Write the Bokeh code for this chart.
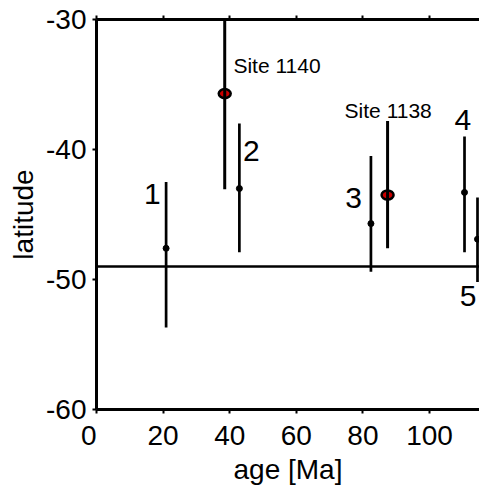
from bokeh.plotting import figure
from bokeh.models import LinearAxis, Span, FixedTicker
from bokeh.core.properties import value
from bokeh.embed import file_html
from bokeh.resources import INLINE

# ---- data ----
ages = [20.9, 42.9, 82.4, 110.5, 114.4]
lats = [-47.6, -43.0, -45.7, -43.3, -46.9]
lat_hi = [-42.5, -38.0, -40.5, -39.0, -43.7]
lat_lo = [-53.7, -47.9, -49.4, -47.9, -50.2]
num_labels = ["1", "2", "3", "4", "5"]
num_label_x = [16.8, 46.5, 77.2, 110.0, 111.6]
num_label_y = [-43.4, -40.15, -43.7, -37.7, -51.3]

site_names = ["Site 1140", "Site 1138"]
site_ages = [38.5, 87.4]
site_lats = [-35.7, -43.5]
site_hi = [-30.0, -37.8]
site_lo = [-43.05, -47.6]
site_label_x = [41.1, 74.5]
site_label_y = [-33.5, -37.0]

ref_lat = -49.0
x_ticks = [0, 20, 40, 60, 80, 100]
x_tick_labels = ["0\u00a0\u00a0", "20", "40", "60", "80", "100"]
y_ticks = [-60, -50, -40, -30]
y_tick_labels = ["-60", "-50", "-40", "-30"]

FONT = "Liberation Sans"

p = figure(width=479, height=490, x_range=(0, 115), y_range=(-60, -30),
           output_backend="svg", toolbar_location=None,
           min_border_left=96, min_border_right=0, min_border_top=19, min_border_bottom=81)
p.outline_line_color = None
p.xgrid.visible = False
p.ygrid.visible = False

for ax in (p.xaxis[0], p.yaxis[0]):
    ax.axis_line_width = 3
    ax.major_tick_line_width = 2
    ax.major_tick_out = 4
    ax.major_tick_in = 0
    ax.minor_tick_line_color = None
    ax.major_label_text_font = FONT
    ax.major_label_text_font_size = "28px"
    ax.major_label_text_color = "black"
    ax.axis_label_text_font = FONT
    ax.axis_label_text_font_size = "28px"
    ax.axis_label_text_font_style = "normal"
    ax.axis_label_text_color = "black"

p.xaxis.ticker = FixedTicker(ticks=x_ticks)
p.yaxis.ticker = FixedTicker(ticks=y_ticks)
p.xaxis.major_label_overrides = dict(zip(x_ticks, x_tick_labels))
p.yaxis.major_label_overrides = dict(zip(y_ticks, y_tick_labels))
p.xaxis.axis_label = "age [Ma]"
p.yaxis.axis_label = "latitude"
p.xaxis.major_label_standoff = 6
p.xaxis.axis_label_standoff = 0
p.yaxis.major_label_standoff = 6
p.yaxis.axis_label_standoff = 4

top = LinearAxis(ticker=FixedTicker(ticks=x_ticks), axis_line_width=3,
                 major_tick_line_width=2, major_tick_out=4, major_tick_in=0,
                 minor_tick_line_color=None,
                 major_label_overrides={t: "" for t in x_ticks})
p.add_layout(top, "above")

p.add_layout(Span(location=ref_lat, dimension="width", line_color="black", line_width=2.5))

# site markers (drawn below bars)
p.ellipse(x=site_ages, y=site_lats, width=3.6, height=0.7, fill_color="#cc0000",
          line_color="black", line_width=2.5)

# error bars
p.segment(x0=ages, y0=lat_lo, x1=ages, y1=lat_hi, line_color="black", line_width=2.7)
p.segment(x0=site_ages, y0=site_lo, x1=site_ages, y1=site_hi, line_color="black", line_width=3)

p.scatter(x=ages, y=lats, size=6, fill_color="black", line_color="black")

p.text(x=num_label_x, y=num_label_y, text=num_labels, text_font=value(FONT),
       text_font_size="30px", text_align="center", text_baseline="middle", text_color="black")
p.text(x=site_label_x, y=site_label_y, text=site_names, text_font=value(FONT),
       text_font_size="21px", text_align="left", text_baseline="middle", text_color="black")

open("out.html", "w").write(file_html(p, INLINE))
